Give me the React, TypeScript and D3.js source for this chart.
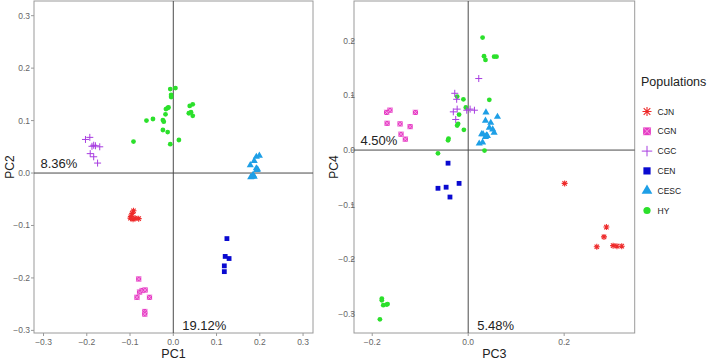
import * as d3 from 'd3';

// Population styling
const populations = ['CJN', 'CGN', 'CGC', 'CEN', 'CESC', 'HY'];
const colors: Record<string, string> = {
  CJN: '#ee2b2b',
  CGN: '#e63cc4',
  CGC: '#a83ee0',
  CEN: '#0a0ad0',
  CESC: '#1e9fe6',
  HY: '#2be02b',
};
const shapes: Record<string, string> = {
  CJN: 'asterisk',
  CGN: 'boxx',
  CGC: 'plus',
  CEN: 'square',
  CESC: 'triangle',
  HY: 'circle',
};

// PC1 vs PC2 scores
const pc12: Record<string, [number, number][]> = {
  CGC: [[-0.203, 0.064], [-0.193, 0.068], [-0.184, 0.053], [-0.18, 0.052], [-0.17, 0.05], [-0.188, 0.051], [-0.192, 0.037], [-0.184, 0.031], [-0.175, 0.019]],
  HY: [[-0.092, 0.06], [-0.062, 0.1], [-0.047, 0.103], [-0.024, 0.101], [-0.022, 0.098], [-0.018, 0.112], [-0.017, 0.122], [-0.013, 0.124], [-0.011, 0.125], [-0.024, 0.082], [-0.013, 0.078], [-0.007, 0.055], [0.013, 0.063], [-0.007, 0.16], [0.005, 0.162], [-0.005, 0.149], [-0.005, 0.145], [0.038, 0.128], [0.045, 0.131], [0.036, 0.114], [0.041, 0.116], [0.045, 0.109]],
  CESC: [[0.178, 0.015], [0.187, 0.023], [0.192, 0.031], [0.199, 0.033], [0.192, 0.009], [0.195, 0.007], [0.184, -0.004], [0.187, -0.007], [0.179, -0.008], [0.185, -0.004], [0.182, -0.007], [0.193, 0.006]],
  CJN: [[-0.095, -0.077], [-0.092, -0.072], [-0.098, -0.083], [-0.093, -0.088], [-0.088, -0.086], [-0.08, -0.087], [-0.099, -0.086]],
  CGN: [[-0.08, -0.202], [-0.078, -0.227], [-0.072, -0.224], [-0.065, -0.223], [-0.084, -0.237], [-0.055, -0.237], [-0.066, -0.264], [-0.066, -0.269]],
  CEN: [[0.124, -0.125], [0.12, -0.159], [0.129, -0.163], [0.118, -0.177], [0.118, -0.188]],
};

// PC3 vs PC4 scores
const pc34: Record<string, [number, number][]> = {
  HY: [[0.03, 0.206], [0.033, 0.172], [0.036, 0.165], [0.054, 0.171], [0.059, 0.171], [0.044, 0.092], [-0.023, 0.098], [-0.01, 0.093], [-0.005, 0.078], [-0.019, 0.065], [-0.021, 0.048], [-0.023, 0.045], [-0.009, 0.037], [-0.041, 0.021], [-0.042, 0.018], [-0.063, -0.006], [0.034, -0.001], [-0.18, -0.272], [-0.18, -0.275], [-0.177, -0.284], [-0.17, -0.283], [-0.168, -0.282], [-0.184, -0.31]],
  CGC: [[-0.028, 0.104], [-0.024, 0.093], [-0.031, 0.07], [-0.023, 0.075], [-0.026, 0.056], [0.004, 0.075], [0.013, 0.073], [-0.003, 0.073], [0.022, 0.131]],
  CGN: [[-0.17, 0.069], [-0.163, 0.073], [-0.169, 0.049], [-0.142, 0.048], [-0.14, 0.029], [-0.131, 0.02], [-0.121, 0.043], [-0.11, 0.069]],
  CESC: [[0.037, 0.069], [0.036, 0.054], [0.047, 0.05], [0.061, 0.061], [0.044, 0.041], [0.051, 0.038], [0.054, 0.032], [0.023, 0.012], [0.03, 0.014], [0.031, 0.029], [0.038, 0.027], [0.036, 0.024], [0.04, 0.026], [0.028, 0.029]],
  CEN: [[-0.042, -0.024], [-0.063, -0.07], [-0.046, -0.068], [-0.038, -0.086], [-0.019, -0.061]],
  CJN: [[0.201, -0.061], [0.288, -0.141], [0.283, -0.159], [0.268, -0.177], [0.302, -0.175], [0.31, -0.176], [0.32, -0.176]],
};

const leftXTicks = [-0.3, -0.2, -0.1, 0, 0.1, 0.2, 0.3];
const leftYTicks = [-0.3, -0.2, -0.1, 0, 0.1, 0.2, 0.3];
const rightXTicks = [-0.2, 0, 0.2];
const rightYTicks = [-0.3, -0.2, -0.1, 0, 0.1, 0.2];

const FONT = 'Liberation Sans, Arial, sans-serif';
const fmt = d3.format('.1f');

function Marker({ shape, color, x, y, s = 1 }: { shape: string; color: string; x: number; y: number; s?: number }) {
  const t = `translate(${x},${y}) scale(${s})`;
  if (shape === 'circle') return <circle cx={x} cy={y} r={2.4 * s} fill={color} />;
  if (shape === 'square') return <rect x={x - 2.4 * s} y={y - 2.4 * s} width={4.8 * s} height={4.8 * s} fill={color} />;
  if (shape === 'triangle') {
    const p = d3.symbol(d3.symbolTriangle, 22)();
    return <path d={p || ''} transform={t} fill={color} />;
  }
  if (shape === 'plus') {
    return <path d="M-3.5,0H3.5M0,-3.5V3.5" transform={t} stroke={color} strokeWidth={1 / s} fill="none" />;
  }
  if (shape === 'asterisk') {
    return (
      <path d="M-3,0H3M0,-3V3M-2.2,-2.2L2.2,2.2M-2.2,2.2L2.2,-2.2" transform={t} stroke={color} strokeWidth={1.1 / s} fill="none" />
    );
  }
  // filled box with a cross through it
  return (
    <g transform={t}>
      <rect x={-2.6} y={-2.6} width={5.2} height={5.2} fill={color} />
      <path d="M-2.6,-2.6L2.6,2.6M-2.6,2.6L2.6,-2.6" stroke="#f7b0ea" strokeWidth={0.8 / s} />
    </g>
  );
}

function Panel({ data, xDomain, yDomain, x0, x1, xTicks, yTicks, xLabel, yLabel, yLabelX, xPct, yPct, tickLabelX }: any) {
  const top = 1;
  const bottom = 333;
  const x = d3.scaleLinear().domain(xDomain).range([x0, x1]);
  const y = d3.scaleLinear().domain(yDomain).range([bottom, top]);
  const ox = x(0);
  const oy = y(0);
  return (
    <g>
      <rect x={x0} y={top} width={x1 - x0} height={bottom - top} fill="white" stroke="#9a9a9a" strokeWidth={1} />
      <line x1={ox} x2={ox} y1={top} y2={bottom} stroke="#4a4a4a" strokeWidth={1} />
      <line x1={x0} x2={x1} y1={oy} y2={oy} stroke="#4a4a4a" strokeWidth={1} />
      {xTicks.map((t: number) => (
        <g key={'x' + t}>
          <line x1={x(t)} x2={x(t)} y1={bottom} y2={bottom + 3} stroke="#9a9a9a" />
          <text x={x(t)} y={bottom + 11.5} textAnchor="middle" fontSize={8.5} fill="#666" fontFamily={FONT}>
            {fmt(t)}
          </text>
        </g>
      ))}
      {yTicks.map((t: number) => (
        <g key={'y' + t}>
          <line x1={x0 - 3} x2={x0} y1={y(t)} y2={y(t)} stroke="#9a9a9a" />
          <text x={tickLabelX} y={y(t) + 3} textAnchor="end" fontSize={8.5} fill="#666" fontFamily={FONT}>
            {fmt(t)}
          </text>
        </g>
      ))}
      {Object.keys(data).map((k) =>
        data[k].map((d: [number, number], i: number) => (
          <Marker key={k + i} shape={shapes[k]} color={colors[k]} x={x(d[0])} y={y(d[1])} />
        ))
      )}
      <text x={x0 + 6.5} y={oy - 5} fontSize={13} fill="#222" fontFamily={FONT}>{yPct}</text>
      <text x={ox + 9} y={bottom - 3} fontSize={13} fill="#222" fontFamily={FONT}>{xPct}</text>
      <text x={(x0 + x1) / 2} y={358} textAnchor="middle" fontSize={12.5} fill="#222" fontFamily={FONT}>{xLabel}</text>
      <text transform={`translate(${yLabelX},${(top + bottom) / 2}) rotate(-90)`} textAnchor="middle" fontSize={12} fill="#222" fontFamily={FONT}>
        {yLabel}
      </text>
    </g>
  );
}

export default function App() {
  return (
    <svg width={709} height={360} style={{ position: 'absolute', left: 0, top: 0, background: 'white' }}>
      <Panel data={pc12} xDomain={[-0.322, 0.323]} yDomain={[-0.305, 0.328]} x0={34} x1={313}
        xTicks={leftXTicks} yTicks={leftYTicks} xLabel="PC1" yLabel="PC2" yLabelX={14}
        xPct="19.12%" yPct="8.36%" tickLabelX={30} />
      <Panel data={pc34} xDomain={[-0.238, 0.347]} yDomain={[-0.335, 0.273]} x0={354} x1={634.7}
        xTicks={rightXTicks} yTicks={rightYTicks} xLabel="PC3" yLabel="PC4" yLabelX={338}
        xPct="5.48%" yPct="4.50%" tickLabelX={355} />
      <text x={641} y={86} fontSize={12.5} fill="#222" fontFamily={FONT}>Populations</text>
      {populations.map((p, i) => (
        <g key={p}>
          <Marker shape={shapes[p]} color={colors[p]} x={647} y={111.5 + i * 19.8} s={1.5} />
          <text x={657.5} y={114.5 + i * 19.8} fontSize={8.5} fill="#222" fontFamily={FONT}>{p}</text>
        </g>
      ))}
    </svg>
  );
}
